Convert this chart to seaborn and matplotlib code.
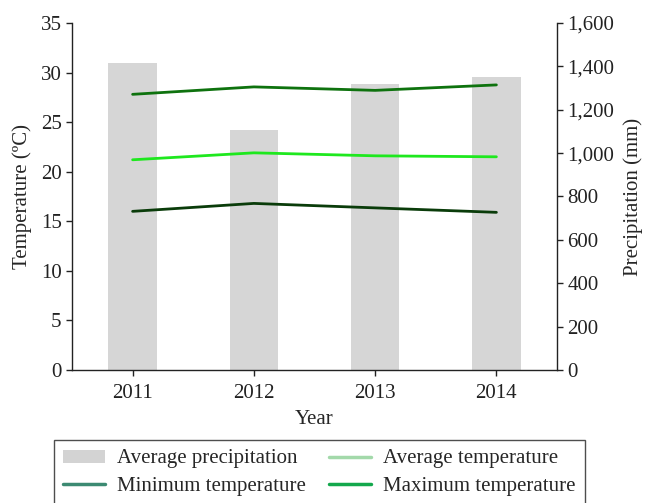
import matplotlib
matplotlib.use("Agg")
import matplotlib.pyplot as plt
from matplotlib.lines import Line2D
from matplotlib.patches import Patch
import seaborn as sns
import pandas as pd

years = ["2011", "2012", "2013", "2014"]
precipitation = [1416, 1108, 1319, 1352]
temp_max = [27.8, 28.55, 28.2, 28.75]
temp_avg = [21.2, 21.9, 21.6, 21.5]
temp_min = [16.0, 16.8, 16.35, 15.9]

FS = 15

sns.set_theme(style="ticks")
plt.rcParams["font.family"] = ["Liberation Serif", "DejaVu Serif"]
plt.rcParams["font.size"] = FS
plt.rcParams["axes.linewidth"] = 1.0

df = pd.DataFrame({
    "Year": years,
    "Precipitation": precipitation,
    "Max": temp_max,
    "Avg": temp_avg,
    "Min": temp_min,
})

fig = plt.figure(figsize=(6.45, 5.03), dpi=100)
ax = fig.add_axes([0.1116, 0.2644, 0.752, 0.690])
ax2 = ax.twinx()

# precipitation bars on the right-hand axis, drawn behind the temperature lines
sns.barplot(data=df, x="Year", y="Precipitation", ax=ax2, color="#d6d6d6",
            width=0.4, saturation=1, edgecolor="none", linewidth=0)
ax.set_zorder(ax2.get_zorder() + 1)
ax.patch.set_visible(False)

line_styles = [("Max", "#0e720e"), ("Avg", "#1ee81e"), ("Min", "#0a3c0a")]
for col, c in line_styles:
    sns.lineplot(data=df, x="Year", y=col, ax=ax, color=c, linewidth=2,
                 sort=False, legend=False)

ax.set_xlim(-0.5, 3.5)
ax2.set_xlim(-0.5, 3.5)
ax.set_ylim(0, 35)
ax.set_yticks(range(0, 36, 5))
ax2.set_ylim(0, 1600)
ax2.set_yticks(range(0, 1601, 200))
ax2.set_yticklabels([f"{v:,}" for v in range(0, 1601, 200)])

ax.set_xlabel("Year", fontsize=FS, labelpad=5)
ax.set_ylabel("Temperature (\u00baC)", fontsize=FS, labelpad=6)
ax2.set_ylabel("Precipitation (mm)", fontsize=FS, labelpad=6)

for a in (ax, ax2):
    a.spines["top"].set_visible(False)
    for s in a.spines.values():
        s.set_color("#222222")
    a.tick_params(axis="both", direction="out", length=4, width=1,
                  color="#222222", labelsize=FS, labelcolor="#222222")
ax.spines["right"].set_visible(False)
ax2.spines["left"].set_visible(False)
ax2.spines["bottom"].set_visible(False)
ax.tick_params(axis="x", pad=6)

# legend entries, filled column by column
handles = [
    Patch(facecolor="#d3d3d3", edgecolor="none"),
    Line2D([], [], color="#3c8a72", linewidth=2.5),
    Line2D([], [], color="#a3d9aa", linewidth=2.5),
    Line2D([], [], color="#13a84c", linewidth=2.5),
]
labels = ["Average precipitation", "Minimum temperature",
          "Average temperature", "Maximum temperature"]
leg = fig.legend(handles, labels, ncol=2, loc="upper center",
                 bbox_to_anchor=(0.4955, 0.125), borderaxespad=0,
                 frameon=True, fancybox=False,
                 fontsize=FS, handlelength=2.0, handleheight=0.6,
                 columnspacing=1.1, labelspacing=0.42, borderpad=0.45,
                 handletextpad=0.6)
leg.get_frame().set_edgecolor("#222222")
leg.get_frame().set_linewidth(1.0)

fig.savefig("out.png", dpi=100)
